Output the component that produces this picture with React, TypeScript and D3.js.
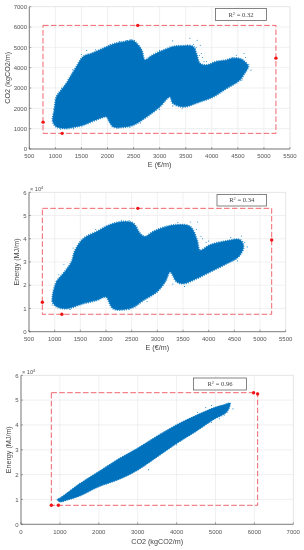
import React from "react";
import * as d3 from "d3";

type P = [number, number];

const xTicksCost = [500, 1000, 1500, 2000, 2500, 3000, 3500, 4000, 4500, 5000, 5500];
const xTicksCo2 = [0, 1000, 2000, 3000, 4000, 5000, 6000, 7000];
const yTicksCo2 = [0, 1000, 2000, 3000, 4000, 5000, 6000, 7000];
const yTicksEnergy = [0, 1, 2, 3, 4, 5, 6];

const cloudCostCo2: P[] = [
  [950, 1450], [985, 1950], [1024, 2573], [1110, 2880], [1215, 3229], [1300, 3600], [1407, 4048], [1535, 4540],
  [1700, 4700], [1854, 4868], [2020, 5060], [2173, 5196], [2340, 5280], [2492, 5327], [2580, 5130], [2652, 4868],
  [2716, 4376], [2830, 4550], [2940, 4704], [3100, 4880], [3259, 5032], [3450, 5070], [3642, 5032], [3710, 4620],
  [3770, 4212], [3900, 4120], [4089, 4294], [4250, 4350], [4408, 4458], [4560, 4420], [4663, 4212], [4696, 4048],
  [4620, 3700], [4536, 3393], [4280, 2983], [4025, 2573], [3770, 2327], [3450, 2081], [3259, 2245], [3195, 2573],
  [3000, 2080], [2750, 1590], [2490, 1180], [2300, 1080], [2110, 1100], [2040, 1330], [1980, 1590], [1850, 1510],
  [1530, 1180], [1350, 1080], [1210, 1020], [1020, 1100], [960, 1300],
];
const strayCostCo2: P[] = [
  [2450, 5380], [2360, 5340], [2230, 5280], [2050, 5150], [1600, 4850], [1500, 4650], [1330, 3900], [1120, 3000],
  [3250, 5320], [3580, 5450], [3720, 5350], [3700, 5000], [3760, 4600], [3850, 4300], [3900, 4300], [4470, 4600],
  [4620, 4700], [4650, 4500], [4750, 3880], [4710, 4150], [4580, 3400], [3430, 1980], [3250, 2120], [2630, 1280],
  [2430, 1060], [2200, 1020], [1350, 1000], [1100, 980], [940, 1500], [3000, 1950], [3820, 4500], [3650, 5150],
  [3780, 5100], [3800, 4700], [3680, 4900], [3000, 4850], [1770, 4880], [1250, 3400], [1060, 2700], [4400, 4500],
];

const cloudCostEnergy: P[] = [
  [960, 1.5], [1040, 2.15], [1170, 2.5], [1330, 3.0], [1400, 3.5], [1560, 4.0], [1820, 4.3], [2080, 4.6], [2340, 4.73],
  [2530, 4.66], [2660, 4.23], [2760, 4.09], [2920, 4.3], [3180, 4.52], [3440, 4.6], [3640, 4.52], [3770, 3.95],
  [3830, 3.5], [4030, 3.73], [4350, 3.9], [4610, 3.95], [4675, 3.66], [4580, 3.23], [4350, 2.94], [3960, 2.51],
  [3770, 2.3], [3510, 2.08], [3380, 2.15], [3250, 2.58], [3150, 2.15], [2990, 1.72], [2730, 1.36], [2500, 1.03],
  [2140, 1.0], [2000, 1.5], [1820, 1.36], [1560, 1.22], [1230, 1.0], [1040, 1.08], [960, 1.29],
];
const strayCostEnergy: P[] = [
  [2300, 4.8], [2450, 4.78], [2600, 4.5], [1800, 4.4], [1360, 3.6], [1180, 2.9], [1080, 2.45], [3650, 4.72], [3780, 4.72],
  [3760, 4.4], [3850, 4.1], [3950, 3.85], [4000, 3.9], [3880, 4.0], [3400, 4.7], [4430, 4.05], [4640, 4.12], [4750, 3.65],
  [4700, 3.85], [4560, 3.05], [3530, 1.95], [3300, 2.05], [2800, 1.3], [2450, 0.96], [2200, 0.95], [1300, 0.96], [950, 1.15],
];

const bandCo2Energy: P[] = [
  [934, 1.0], [1000, 1.05], [1500, 1.62], [2000, 2.12], [2500, 2.62], [3000, 3.06], [3500, 3.55], [4000, 4.0],
  [4500, 4.38], [5000, 4.71], [5200, 4.8], [5370, 4.87], [5300, 4.55], [5150, 4.38], [5000, 4.27], [4500, 3.75],
  [4000, 3.26], [3500, 2.72], [3000, 2.19], [2500, 1.8], [2000, 1.52], [1500, 1.14], [1200, 0.99], [1000, 0.91],
];
const strayCo2Energy: P[] = [
  [5380, 4.87], [5450, 4.65], [5300, 4.5], [5230, 4.4], [4540, 4.5], [4750, 4.7], [4900, 4.78], [3280, 2.2], [3690, 2.95],
  [4000, 3.2], [4900, 4.1], [2250, 2.35], [1500, 1.65], [5100, 4.25], [5280, 4.75],
];

const boxCostCo2 = { x0: 763, x1: 5230, y0: 770, y1: 6080 };
const boxCostEnergy = { x0: 760, x1: 5227, y0: 0.75, y1: 5.31 };
const boxCo2Energy = { x0: 780, x1: 6083, y0: 0.765, y1: 5.3 };

const redCostCo2: P[] = [[2580, 6080], [5230, 4470], [765, 1320], [1130, 770]];
const redCostEnergy: P[] = [[2620, 5.31], [5227, 3.95], [760, 1.27], [1140, 0.75]];
const redCo2Energy: P[] = [[5980, 5.3], [6083, 5.25], [780, 0.765], [960, 0.765]];

const FONT = "'Liberation Sans', Arial, sans-serif";
const BLUE = "#0072BD";
const DOT = "#1E88CC";

interface PanelProps {
  left: number; right: number; top: number; bottom: number;
  xDomain: [number, number]; yDomain: [number, number];
  xTicks: number[]; yTicks: number[];
  xLabel: string; yLabel: string; yLabelX: number; xLabelY: number; exponent: boolean;
  cloud: P[]; stray: P[]; red: P[]; fuzz: number;
  rect: { x0: number; x1: number; y0: number; y1: number };
  r2: string; lx: number; ly: number; lw: number; lh: number;
}

function Panel(p: PanelProps) {
  const x = d3.scaleLinear().domain(p.xDomain).range([p.left, p.right]);
  const y = d3.scaleLinear().domain(p.yDomain).range([p.bottom, p.top]);
  const line = d3.line<P>().x((d) => x(d[0])).y((d) => y(d[1])).curve(d3.curveCatmullRomClosed.alpha(0.5));
  const path = line(p.cloud) ?? "";
  return (
    <g fontFamily={FONT}>
      <rect x={p.left} y={p.top} width={p.right - p.left} height={p.bottom - p.top} fill="#fff" stroke="#e2e2e2" strokeWidth={0.6} />
      {p.xTicks.map((t) => <line key={t} x1={x(t)} x2={x(t)} y1={p.top} y2={p.bottom} stroke="#e6e6e6" strokeWidth={0.6} />)}
      {p.yTicks.map((t) => <line key={t} x1={p.left} x2={p.right} y1={y(t)} y2={y(t)} stroke="#e6e6e6" strokeWidth={0.6} />)}
      <path d={path} fill="none" stroke={DOT} strokeWidth={p.fuzz} strokeDasharray="0.9 1.3" />
      <path d={path} fill={BLUE} stroke={BLUE} strokeWidth={0.6} strokeLinejoin="round" />
      {p.stray.map((d, i) => <circle key={i} cx={x(d[0])} cy={y(d[1])} r={0.55} fill={DOT} />)}
      <rect x={x(p.rect.x0)} y={y(p.rect.y1)} width={x(p.rect.x1) - x(p.rect.x0)} height={y(p.rect.y0) - y(p.rect.y1)}
        fill="none" stroke="#F0555F" strokeWidth={0.9} strokeDasharray="5.6 2.3" />
      {p.red.map((d, i) => <circle key={i} cx={x(d[0])} cy={y(d[1])} r={1.7} fill="#F01414" />)}
      <line x1={p.left} x2={p.right} y1={p.bottom} y2={p.bottom} stroke="#555" strokeWidth={0.7} />
      <line x1={p.left} x2={p.left} y1={p.top} y2={p.bottom} stroke="#555" strokeWidth={0.7} />
      {p.xTicks.map((t) => (
        <g key={t}>
          <line x1={x(t)} x2={x(t)} y1={p.bottom} y2={p.bottom - 2} stroke="#555" strokeWidth={0.5} />
          <text x={x(t)} y={p.bottom + 9.3} textAnchor="middle" fontSize={6} fill="#555">{t}</text>
        </g>
      ))}
      {p.yTicks.map((t) => (
        <g key={t}>
          <line x1={p.left} x2={p.left + 2} y1={y(t)} y2={y(t)} stroke="#555" strokeWidth={0.5} />
          <text x={p.left - 2.3} y={y(t) + 2.2} textAnchor="end" fontSize={6} fill="#555">{t}</text>
        </g>
      ))}
      {p.exponent && (
        <text x={p.left + 1} y={p.top - 1.5} fontSize={5.6} fill="#555">× 10<tspan dy={-2} fontSize={4.2}>4</tspan></text>
      )}
      <text x={(p.left + p.right) / 2} y={p.xLabelY} textAnchor="middle" fontSize={7.2} fill="#444">{p.xLabel}</text>
      <text transform={`translate(${p.yLabelX},${(p.top + p.bottom) / 2}) rotate(-90)`} textAnchor="middle" fontSize={7.2} fill="#444">{p.yLabel}</text>
      <rect x={p.lx} y={p.ly} width={p.lw} height={p.lh} fill="#fff" stroke="#666" strokeWidth={0.8} />
      <text x={p.lx + p.lw / 2} y={p.ly + p.lh / 2 + 2.2} textAnchor="middle" fontSize={6.6} fontFamily="'Liberation Serif', serif" fill="#444">
        R<tspan dy={-2} fontSize={4.4}>2</tspan><tspan dy={2}> = {p.r2}</tspan>
      </text>
    </g>
  );
}

export default function App() {
  return (
    <svg width={304} height={550} viewBox="0 0 304 550" style={{ position: "absolute", left: 0, top: 0, background: "#fff", filter: "blur(0.3px)" }}>
      <Panel left={29.3} right={290} top={6.7} bottom={149} xDomain={[500, 5500]} yDomain={[0, 7000]}
        xTicks={xTicksCost} yTicks={yTicksCo2} xLabel="E (€/m)" yLabel="CO2 (kgCO2/m)" yLabelX={10} xLabelY={167} exponent={false} fuzz={2.4}
        cloud={cloudCostCo2} stray={strayCostCo2} red={redCostCo2} rect={boxCostCo2} r2="0.32" lx={215.5} ly={8.5} lw={51} lh={12} />
      <Panel left={29} right={285.7} top={192.3} bottom={331.7} xDomain={[500, 5500]} yDomain={[0, 6]}
        xTicks={xTicksCost} yTicks={yTicksEnergy} xLabel="E (€/m)" yLabel="Energy (MJ/m)" yLabelX={19} xLabelY={350} exponent={true} fuzz={2.4}
        cloud={cloudCostEnergy} stray={strayCostEnergy} red={redCostEnergy} rect={boxCostEnergy} r2="0.34" lx={217} ly={194.5} lw={49.5} lh={11.5} />
      <Panel left={21} right={293.3} top={375.3} bottom={524.3} xDomain={[0, 7000]} yDomain={[0, 6]}
        xTicks={xTicksCo2} yTicks={yTicksEnergy} xLabel="CO2 (kgCO2/m)" yLabel="Energy (MJ/m)" yLabelX={10.5} xLabelY={543.5} exponent={true} fuzz={1.4}
        cloud={bandCo2Energy} stray={strayCo2Energy} red={redCo2Energy} rect={boxCo2Energy} r2="0.96" lx={193.5} ly={378} lw={53} lh={12} />
    </svg>
  );
}
